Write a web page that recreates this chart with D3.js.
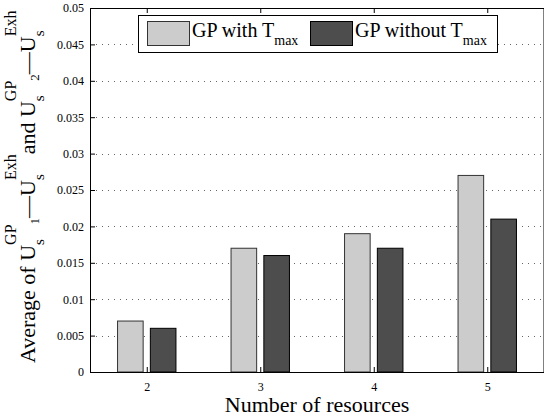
<!DOCTYPE html>
<html><head><meta charset="utf-8">
<script src="https://cdn.jsdelivr.net/npm/d3@7"></script>
<style>body{margin:0;background:#fff}svg{display:block}svg text{font-family:'Liberation Serif','Times New Roman',serif}</style>
</head><body>
<script>
const categories = [2, 3, 4, 5];
const withTmax = [0.007, 0.017, 0.019, 0.027];
const withoutTmax = [0.006, 0.016, 0.017, 0.021];
const yTicks = [0, 0.005, 0.01, 0.015, 0.02, 0.025, 0.03, 0.035, 0.04, 0.045, 0.05];
const yTickLabels = ["0", "0.005", "0.01", "0.015", "0.02", "0.025", "0.03", "0.035", "0.04", "0.045", "0.05"];
const seriesNames = ["GP with T", "GP without T"];
const seriesSub = "max";
const xLabel = "Number of resources";

const W = 544, H = 417;
const m = {l: 90, r: 0, t: 8, b: 45};
const font = "'Liberation Serif','Times New Roman',serif";
const svg = d3.select("body").append("svg").attr("width", W).attr("height", H)
  .style("font-family", font);

const x = d3.scaleLinear().domain([1.5, 5.5]).range([m.l, W - m.r]);
const y = d3.scaleLinear().domain([0, 0.05]).range([H - m.b, m.t]);

// grid
svg.append("g").selectAll("line").data(yTicks.slice(1, -1)).join("line")
  .attr("x1", m.l).attr("x2", W).attr("y1", d => Math.round(y(d)) + 0.5).attr("y2", d => Math.round(y(d)) + 0.5)
  .attr("stroke", "#666").attr("stroke-dasharray", "1,5");

// bars
const off = 0.1445, bw = 0.2256;
const series = [{vals: withTmax, fill: "#cccccc", stroke: "#333", o: -off},
                {vals: withoutTmax, fill: "#4d4d4d", stroke: "#000", o: off}];
series.forEach(s => {
  svg.append("g").selectAll("rect").data(categories).join("rect")
    .attr("x", (d) => x(d + s.o - bw / 2))
    .attr("width", x(bw) - x(0))
    .attr("y", (d, i) => y(s.vals[i]))
    .attr("height", (d, i) => y(0) - y(s.vals[i]))
    .attr("fill", s.fill).attr("stroke", s.stroke).attr("stroke-width", 1);
});

// axes
const yAxis = d3.axisLeft(y).tickValues(yTicks).tickFormat((d, i) => yTickLabels[i]).tickSizeInner(-5).tickSizeOuter(0).tickPadding(6);
const gy = svg.append("g").attr("transform", `translate(${m.l},0)`).call(yAxis)
  .attr("font-family", font).attr("font-size", 12);
gy.selectAll("text").attr("fill", "#000");
gy.selectAll("line").attr("stroke", "#000");
gy.select(".domain").remove();

const xAxis = d3.axisBottom(x).tickValues(categories).tickFormat(d3.format("d")).tickSizeInner(-5).tickSizeOuter(0).tickPadding(10);
const gx = svg.append("g").attr("transform", `translate(0,${y(0)})`).call(xAxis)
  .attr("font-family", font).attr("font-size", 12);
gx.selectAll("text").attr("fill", "#000");
gx.selectAll("line").attr("stroke", "#000");
gx.select(".domain").remove();
const xAxisTop = d3.axisTop(x).tickValues(categories).tickFormat("").tickSizeInner(-5).tickSizeOuter(0);
const gxt = svg.append("g").attr("transform", `translate(0,${y(0.05)})`).call(xAxisTop);
gxt.selectAll("line").attr("stroke", "#000");
gxt.select(".domain").remove();

// frame
svg.append("rect").attr("x", m.l + 0.5).attr("y", Math.round(y(0.05)) + 0.5)
  .attr("width", W - m.r - m.l - 0.5).attr("height", Math.round(y(0)) - Math.round(y(0.05)))
  .attr("fill", "none").attr("stroke", "#000").attr("stroke-width", 1);

// x label
svg.append("text").attr("x", (m.l + W) / 2).attr("y", 412).attr("text-anchor", "middle")
  .style("font-size", "22px").text(xLabel);

// y label (rotated, with stacked super/subscripts)
const gl = svg.append("g").attr("transform", "translate(35,363) rotate(-90)");
let cx = 0;
function piece(t, size, dy) {
  const el = gl.append("text").attr("x", cx).attr("y", dy).style("font-size", size + "px").text(t);
  return el.node().getComputedTextLength();
}
function main(t) { cx += piece(t, 22, 0); }
function stack(sup, sub) {
  const w1 = piece(sup, 16, -19);
  const w2 = piece(sub, 15, 9);
  cx += Math.max(w1, w2);
}
function small(t) { cx += piece(t, 13, 4); }
main("Average of U"); stack("GP", "s"); small("1"); main("\u2014U"); stack("Exh", "s");
main(" and U"); stack("GP", "s"); small("2"); main("\u2014U"); stack("Exh", "s");

// legend
const lg = svg.append("g");
lg.append("rect").attr("x", 138.5).attr("y", 15.5).attr("width", 359).attr("height", 37)
  .attr("fill", "#fff").attr("stroke", "#000");
const legX = [147, 310];
series.forEach((s, i) => {
  lg.append("rect").attr("x", legX[i] + 0.5).attr("y", 21.5).attr("width", 42).attr("height", 24)
    .attr("fill", s.fill).attr("stroke", s.stroke);
  const t = lg.append("text").attr("x", legX[i] + 45).attr("y", 37).style("font-size", "20px");
  t.append("tspan").text(seriesNames[i]);
  t.append("tspan").attr("dy", 8).style("font-size", "14px").text(seriesSub);
});
</script>
</body></html>
